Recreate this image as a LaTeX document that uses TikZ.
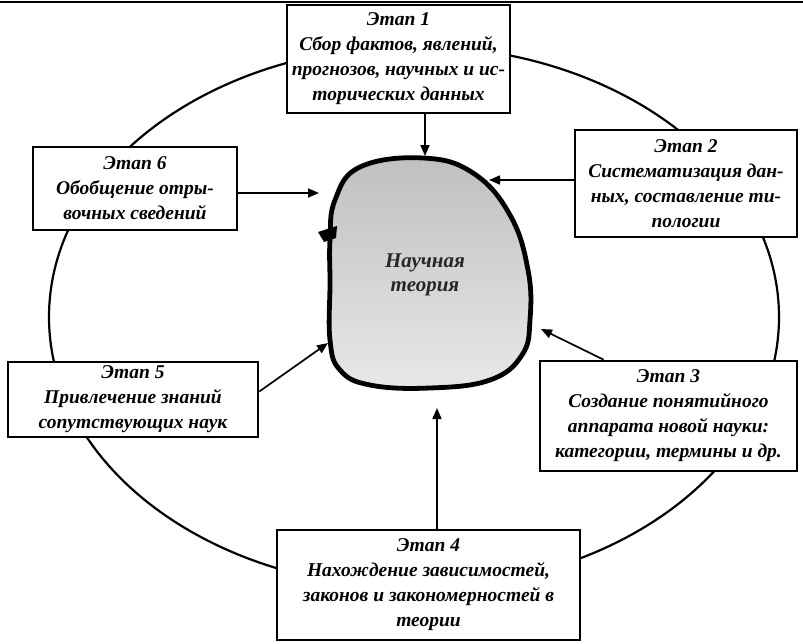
\documentclass[tikz,border=0pt]{standalone}
\usepackage{fontspec}
\setmainfont{Liberation Serif}
\usetikzlibrary{arrows.meta,calc}
\begin{document}
\begin{tikzpicture}[x=1pt,y=-1pt,
  stage/.style={draw,line width=2.6pt,fill=white,align=center,inner sep=0pt,
    font=\fontsize{19.5}{25}\selectfont\bfseries\itshape},
  arr/.style={line width=1.7pt,-{Triangle[length=11pt,width=9pt]}},
]
\useasboundingbox (0,0) rectangle (803,643);
\draw[line width=1.5pt] (0,2) -- (803,2);
\draw[line width=2.2pt] (414,317) ellipse [x radius=365, y radius=271];

% central blob
\draw[line width=4.8pt, top color=gray!50, bottom color=gray!18]
  plot[smooth cycle, tension=0.7] coordinates {
  (423,158) (473,173) (510,215) (528,270) (530,320) (522,355) (490,380)
  (430,388) (370,385) (340,370) (330,340) (330,283) (330,240) (335,200) (360,167)};
\fill (318,232) -- (337,226) -- (336,238) -- (324,242) -- cycle;
\node[font=\fontsize{21}{24}\selectfont\bfseries\itshape,align=center,text=black!85] (th) at (425,275) {Научная\\теория};

\node[stage,minimum width=223pt,minimum height=108pt] (b1) at (398.5,59)
  {Этап 1\\Сбор фактов, явлений,\\прогнозов, научных и ис-\\торических данных};
\node[stage,minimum width=222pt,minimum height=107pt] (b2) at (686,183.5)
  {Этап 2\\Систематизация дан-\\ных, составление ти-\\пологии};
\node[stage,minimum width=257pt,minimum height=110pt] (b3) at (668.5,416)
  {Этап 3\\Создание понятийного\\аппарата новой науки:\\категории, термины и др.};
\node[stage,minimum width=303pt,minimum height=110pt] (b4) at (428.5,585)
  {Этап 4\\Нахождение зависимостей,\\законов и закономерностей в\\теории};
\node[stage,minimum width=250pt,minimum height=75pt] (b5) at (133,399.5)
  {Этап 5\\Привлечение знаний\\сопутствующих наук};
\node[stage,minimum width=204pt,minimum height=83pt] (b6) at (135,188.5)
  {Этап 6\\Обобщение отры-\\вочных сведений};

\coordinate (t1) at (425,156);
\coordinate (t2) at (489,180);
\coordinate (t3) at (541,329);
\coordinate (t4) at (437,408);
\coordinate (t5) at (328,343);
\coordinate (t6) at (319,193);

\draw[arr] (b1.south -| t1) -- (t1);
\draw[arr] (b2.west |- t2) -- (t2);
\draw[arr] ($(b3.north west)!0.25!(b3.north east)$) -- (t3);
\draw[arr] (b4.north -| t4) -- (t4);
\draw[arr] ([yshift=8pt]b5.east) -- (t5);
\draw[arr] (b6.east |- t6) -- (t6);
\end{tikzpicture}
\end{document}
